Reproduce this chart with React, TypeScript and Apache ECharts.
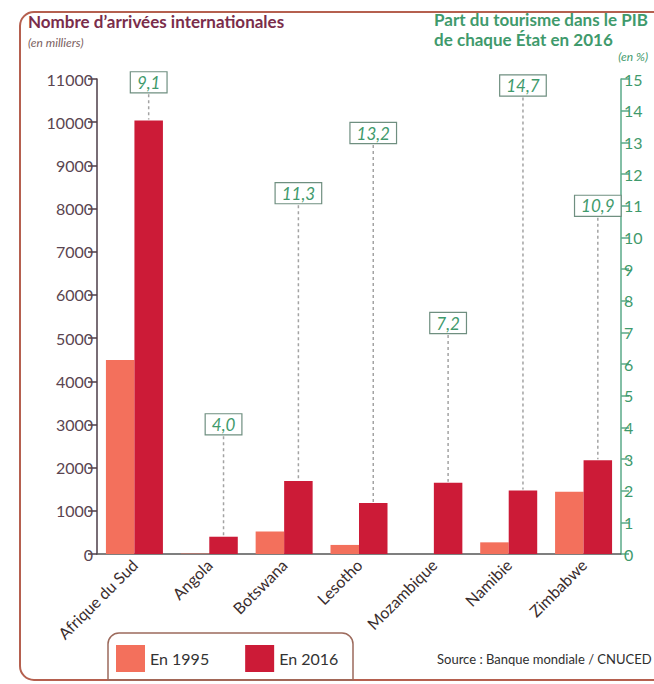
import React, { useEffect, useRef } from "react";
import * as echarts from "echarts";

const categories = ["Afrique du Sud", "Angola", "Botswana", "Lesotho", "Mozambique", "Namibie", "Zimbabwe"];
const arrivals1995 = [4490, 9, 521, 210, null, 270, 1440];
const arrivals2016 = [10040, 400, 1690, 1180, 1650, 1470, 2170];
const tourismShare2016 = [9.1, 4.0, 11.3, 13.2, 7.2, 14.7, 10.9];
const LEFT_MAX = 11000;
const LEFT_INTERVAL = 1000;
const RIGHT_MAX = 15;
const RIGHT_INTERVAL = 1;

const FONT = "Lato, 'Open Sans', sans-serif";
const GREEN = "#3f9a6c";
const MAROON = "#7a2d4b";
const C1995 = "#f3705c";
const C2016 = "#cc1b37";
const BAR_W = 28.5;

const fmt = (v: number) => v.toFixed(1).replace(".", ",");

export default function App() {
  const ref = useRef<HTMLDivElement>(null);
  useEffect(() => {
    if (!ref.current) return;
    const chart = echarts.init(ref.current, undefined, { renderer: "svg" });
    const labelData = categories.map((_, i) => [i, tourismShare2016[i], arrivals2016[i]]);
    chart.setOption({
      animation: false,
      backgroundColor: "#ffffff",
      textStyle: { fontFamily: FONT },
      grid: { left: 97, right: 33, top: 79, bottom: 130 },
      legend: {
        left: 116,
        top: 645,
        itemWidth: 29,
        itemHeight: 27,
        itemGap: 36,
        icon: "rect",
        padding: 0,
        textStyle: { fontSize: 16, color: "#333", fontFamily: FONT },
        data: ["En 1995", "En 2016"],
      },
      xAxis: {
        type: "category",
        data: categories,
        axisLine: { show: true, lineStyle: { color: "#555", width: 1.5 } },
        axisTick: { show: false },
        axisLabel: {
          interval: 0,
          rotate: 45,
          margin: 8,
          fontSize: 16,
          color: "#3a2d2d",
          fontFamily: FONT,
        },
      },
      yAxis: [
        {
          type: "value",
          min: 0,
          max: LEFT_MAX,
          interval: LEFT_INTERVAL,
          position: "left",
          splitLine: { show: false },
          axisLine: { show: true, lineStyle: { color: "#4d3d47", width: 1.5 } },
          axisTick: { show: true, length: 9, lineStyle: { color: "#4d3d47", width: 1.5 } },
          axisLabel: {
            fontSize: 16,
            color: "#5a4550",
            margin: 4,
            fontFamily: FONT,
            fontStyle: "normal",
            formatter: (v: number) => String(v),
          },
        },
        {
          type: "value",
          min: 0,
          max: RIGHT_MAX,
          interval: RIGHT_INTERVAL,
          position: "right",
          splitLine: { show: false },
          axisLine: { show: true, lineStyle: { color: "#5aaa88", width: 1.5 } },
          axisTick: { show: true, length: 8, lineStyle: { color: "#5aaa88", width: 1.5 } },
          axisLabel: {
            fontSize: 16,
            color: GREEN,
            margin: 3,
            fontFamily: FONT,
            fontStyle: "normal",
            formatter: (v: number) => String(v),
          },
        },
      ],
      series: [
        {
          name: "En 1995",
          type: "bar",
          data: arrivals1995,
          barWidth: BAR_W,
          barGap: "0%",
          itemStyle: { color: C1995 },
        },
        {
          name: "En 2016",
          type: "bar",
          data: arrivals2016,
          barWidth: BAR_W,
          barGap: "0%",
          itemStyle: { color: C2016 },
        },
        {
          name: "Part PIB",
          type: "custom",
          yAxisIndex: 1,
          encode: { x: 0, y: 1 },
          data: labelData,
          z: 5,
          renderItem: (params: any, api: any) => {
            const idx = api.value(0);
            const pct = api.value(1);
            const v16 = api.value(2);
            const cx = api.coord([idx, 0])[0] + BAR_W / 2;
            const barTopPct = (v16 / LEFT_MAX) * RIGHT_MAX;
            const level = barTopPct + 1 > pct ? Math.min(barTopPct + 1.5, RIGHT_MAX - 0.2) : pct;
            const yLabel = api.coord([idx, level])[1] - 3;
            const yBar = api.coord([idx, barTopPct])[1];
            return {
              type: "group",
              children: [
                {
                  type: "line",
                  shape: { x1: cx, y1: yLabel + 12, x2: cx, y2: yBar - 1 },
                  style: { stroke: "#a3a3a3", lineWidth: 1.5, lineDash: [3, 3] },
                },
                {
                  type: "text",
                  x: cx,
                  y: yLabel,
                  style: {
                    text: fmt(pct),
                    fill: GREEN,
                    fontFamily: FONT,
                    fontStyle: "italic",
                    fontSize: 17,
                    align: "center",
                    verticalAlign: "middle",
                    backgroundColor: "#ffffff",
                    borderColor: "#6f8f80",
                    borderWidth: 1.2,
                    padding: [2, 6, 1, 6],
                  },
                },
              ],
            };
          },
        },
      ],
      graphic: [
        {
          type: "rect",
          silent: true,
          z: -10,
          shape: { x: 20, y: 12, width: 660, height: 668, r: 14 },
          style: { fill: "none", stroke: "#b5604f", lineWidth: 2 },
        },
        {
          type: "rect",
          silent: true,
          z: -10,
          shape: { x: 108, y: 633, width: 245, height: 47, r: [11, 11, 0, 0] },
          style: { fill: "none", stroke: "#9c6a5c", lineWidth: 1.5 },
        },
        {
          type: "text",
          left: 28,
          top: 13,
          style: { text: "Nombre d’arrivées internationales", fill: MAROON, fontFamily: FONT, fontWeight: "bold", fontSize: 17 },
        },
        {
          type: "text",
          left: 28,
          top: 36,
          style: { text: "(en milliers)", fill: "#7a6060", fontFamily: FONT, fontStyle: "italic", fontSize: 12 },
        },
        {
          type: "text",
          right: 6,
          top: 9,
          style: {
            text: "Part du tourisme dans le PIB\nde chaque État en 2016",
            fill: GREEN,
            fontFamily: FONT,
            fontWeight: "bold",
            fontSize: 17,
            align: "right",
            lineHeight: 20,
          },
        },
        {
          type: "text",
          right: 6,
          top: 50,
          style: { text: "(en %)", fill: GREEN, fontFamily: FONT, fontStyle: "italic", fontSize: 12, align: "right" },
        },
        {
          type: "text",
          left: 437,
          top: 652,
          style: { text: "Source : Banque mondiale / CNUCED", fill: "#2e2e2e", fontFamily: FONT, fontSize: 13 },
        },
      ],
    });
    return () => chart.dispose();
  }, []);
  return <div ref={ref} style={{ width: 654, height: 684, position: "absolute", left: 0, top: 0 }} />;
}
